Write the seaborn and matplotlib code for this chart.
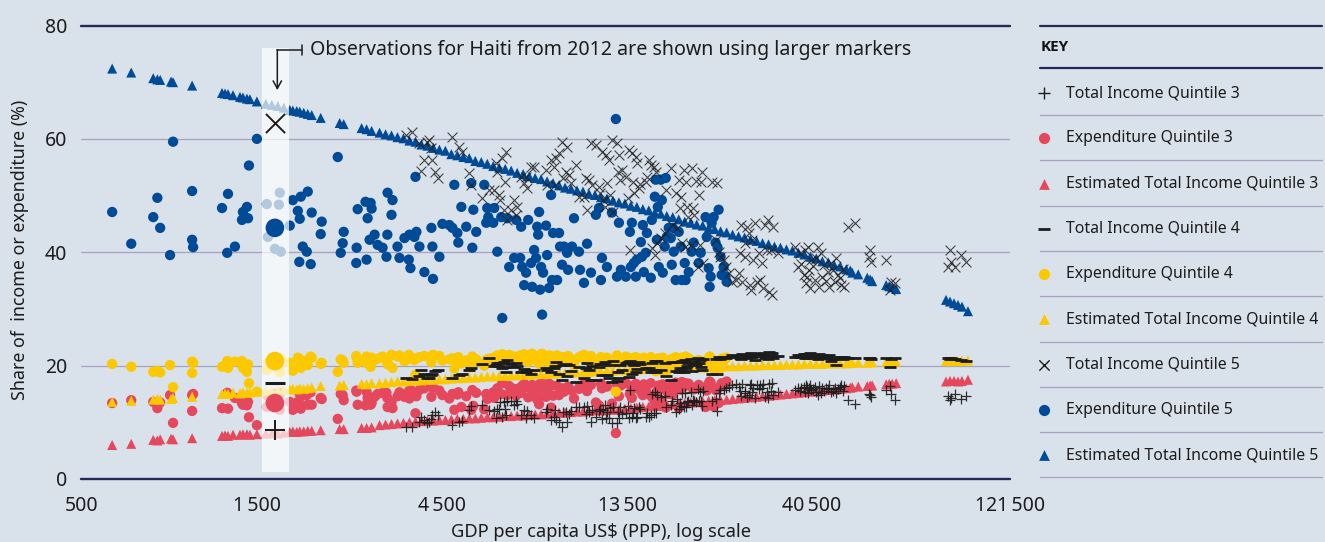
import matplotlib
matplotlib.use("Agg")
import matplotlib.pyplot as plt
from matplotlib.ticker import NullLocator
import seaborn as sns

sns.set_style("white")
plt.rcParams['font.family'] = ['Noto Sans', 'DejaVu Sans']

BG = '#d9e1ea'
DARK = '#27275a'
GRID = '#a8a1c0'
BLUE = '#004b98'
RED = '#e5485c'
YELLOW = '#fcc800'
INK = '#1c1c1c'

# ---------------- data ----------------
# Estimated total income (triangles): GDP per capita, share of quintile 3/4/5 (%)
est_gdp = [633, 709, 808, 828, 842, 898, 909, 1018, 1216, 1238, 1260, 1298, 1353, 1377, 1410, 1435, 1496,
           1578, 1635, 1694, 1755, 1819, 1852, 1896, 1930, 1976, 2024, 2072, 2186, 2447, 2506, 2787, 2871, 2958,
           3101, 3214, 3329, 3450, 3575, 3704, 3839, 3977, 4121, 4270, 4425, 4586, 4751, 4923, 5102, 5286, 5478,
           5676, 5882, 6094, 6315, 6544, 6780, 7026, 7280, 7543, 7817, 8099, 8393, 8697, 9011, 9338, 9675, 10026,
           10388, 10765, 11156, 11558, 11977, 12411, 12860, 13327, 13807, 14308, 14825, 15362, 15920, 16494, 17092,
           17710, 18351, 19017, 19704, 20418, 21156, 21922, 22718, 23537, 24390, 25272, 26187, 27138, 28117, 29136,
           30191, 31283, 32419, 33588, 34806, 36065, 37370, 38727, 40125, 41580, 43084, 44643, 46264, 47933, 49671,
           50858, 51466, 53330, 56258, 57259, 57944, 62958, 64085, 65235, 66802, 89844, 91993, 94211, 96461, 98776,
           102350]
est_q5 = [72.4, 71.7, 70.7, 70.5, 70.4, 70.1, 70.0, 69.4, 68.1, 68.0, 67.9, 67.7, 67.4, 67.3, 67.1, 67.0, 66.6,
          66.2, 66.0, 65.8, 65.5, 65.1, 65.0, 64.9, 64.8, 64.6, 64.4, 64.2, 63.7, 62.8, 62.6, 61.9, 61.7, 61.4,
          61.1, 60.8, 60.6, 60.3, 60.1, 59.7, 59.5, 59.0, 58.8, 58.4, 58.1, 57.9, 57.3, 57.1, 56.8, 56.6, 56.1,
          55.9, 55.6, 55.2, 54.9, 54.7, 54.4, 54.0, 53.8, 53.4, 53.1, 52.9, 52.5, 52.2, 51.8, 51.4, 51.2, 50.9,
          50.7, 50.3, 50.1, 49.7, 49.5, 49.1, 48.8, 48.6, 48.2, 48.0, 47.6, 47.4, 47.0, 46.8, 46.4, 46.2,
          45.8, 45.4, 45.2, 44.9, 44.7, 44.3, 44.1, 43.7, 43.5, 43.1, 42.8, 42.6, 42.2, 42.0, 41.6, 41.4, 41.0,
          40.8, 40.5, 40.3, 39.9, 39.6, 39.2, 38.9, 38.4, 38.2, 37.7, 37.5, 37.0,
          36.8, 36.4, 36.1, 35.5, 35.2, 34.9, 34.2, 34.0, 33.8, 33.5, 31.6, 31.3, 31.0, 30.7, 30.4, 29.6]
est_q3 = [6.0, 6.2, 6.9, 6.8, 7.0, 7.1, 7.0, 7.2, 7.6, 7.7, 7.6, 7.8, 7.8, 7.9, 7.9, 7.8, 7.9,
          8.0, 8.1, 8.0, 8.2, 8.3, 8.4, 8.3, 8.4, 8.4, 8.5, 8.5, 8.6, 8.8, 8.8, 9.0, 9.0, 9.1,
          9.5, 9.6, 9.7, 9.8, 9.9, 10.0, 10.1, 10.2, 10.3, 10.3, 10.4, 10.4, 10.5, 10.6, 10.6, 10.7, 10.7,
          10.8, 10.9, 10.9, 11.0, 11.1, 11.1, 11.2, 11.2, 11.3, 11.4, 11.4, 11.5, 11.6, 11.7, 11.7, 11.8, 11.9,
          11.9, 12.0, 12.1, 12.1, 12.2, 12.2, 12.3, 12.4, 12.5, 12.6, 12.7, 12.8, 12.9, 13.0, 13.1, 13.2,
          13.3, 13.4, 13.5, 13.6, 13.7, 13.8, 13.9, 13.9, 14.0, 14.1, 14.2, 14.3, 14.4, 14.5, 14.6, 14.7, 14.8,
          14.9, 15.0, 15.1, 15.2, 15.3, 15.4, 15.5, 15.6, 15.7, 15.8, 15.9, 16.0,
          16.1, 16.2, 16.3, 16.4, 16.5, 16.5, 16.7, 16.8, 16.8, 16.9, 17.2, 17.3, 17.3, 17.2, 17.3, 17.5]
est_q4 = [13.6, 13.8, 14.0, 14.1, 14.0, 14.1, 14.3, 14.5, 15.0, 15.1, 15.0, 15.2, 15.1, 15.3, 15.2, 15.3, 15.4,
          15.5, 15.5, 15.6, 15.7, 15.8, 15.9, 15.8, 16.0, 15.9, 16.0, 16.1, 16.4, 16.5, 16.6, 16.8, 16.7, 16.9,
          16.9, 17.0, 17.1, 17.2, 17.2, 17.3, 17.4, 17.4, 17.5, 17.5, 17.6, 17.6, 17.7, 17.8, 17.8, 17.9, 17.9,
          18.0, 18.1, 18.1, 18.2, 18.2, 18.3, 18.3, 18.4, 18.4, 18.5, 18.5, 18.6, 18.6, 18.7, 18.7, 18.8, 18.8,
          18.9, 18.9, 19.0, 19.0, 19.1, 19.1, 19.2, 19.2, 19.3, 19.3, 19.4, 19.4, 19.5, 19.5, 19.5, 19.6,
          19.6, 19.6, 19.7, 19.7, 19.7, 19.8, 19.8, 19.8, 19.9, 19.9, 19.9, 20.0, 20.0, 20.0, 20.1, 20.1, 20.1,
          20.1, 20.2, 20.2, 20.2, 20.3, 20.3, 20.3, 20.3, 20.4, 20.4, 20.4, 20.4,
          20.5, 20.5, 20.5, 20.5, 20.6, 20.6, 20.6, 20.6, 20.7, 20.7, 20.8, 20.8, 20.9, 20.8, 20.9, 20.9]

# Expenditure surveys (circles)
exp_gdp = [633, 709, 808, 828, 842, 893, 909, 1018, 1018, 1024, 1216, 1260, 1254, 1313, 1369, 1377, 1410, 1419,
           1427, 1496, 1587, 1705, 1714, 1598, 1665, 1724, 1819, 1852, 1908, 1930, 1942, 2024, 2072, 1965, 2012,
           1925, 2060, 2199, 2186, 2419, 2506, 2491, 2462, 2706, 2700, 2723, 2853, 2889, 2941, 2958, 2871, 2923,
           3011, 3066, 3157, 3253, 3349, 3248, 3329, 3231, 3450, 3491, 3596, 3704, 3839, 3860, 3815, 3930, 4245,
           3690, 3726, 4048, 4260, 4220, 4505, 4695, 4780, 4425, 4836, 5042, 4923, 4952, 5191, 5349, 5381, 5413,
           5508, 5777, 5882, 5846, 5917, 6094, 6130, 6243, 6391, 6429, 6622, 6700, 6901, 6982, 7194, 7152, 7237,
           7323, 7408, 7500, 7633, 7679, 7770, 7860, 7913, 8004, 7958, 8099, 8147, 8052, 8196, 8340, 8393, 8493,
           8594, 8645, 8697, 8909, 9011, 9065, 9173, 9281, 9452, 9507, 9733, 9848, 10145, 10206, 10449, 10642,
           10894, 11217, 11422, 11558, 11627, 11977, 12338, 12629, 12714, 12860, 13014, 13400, 13807, 13727, 13890,
           14054, 14218, 14308, 14652, 14739, 14825, 14912, 15086, 15187, 15546, 15639, 16007, 15920, 16114, 16207,
           16300, 16494, 16594, 16691, 16985, 17092, 16887, 17295, 17503, 17606, 17710, 17814, 18021, 18351, 18571,
           18682, 19122, 19017, 19472, 19822, 20056, 20660, 20908, 21528, 21672, 21922, 22185, 22053, 22317, 22580,
           23260, 23123, 23537, 23679, 23958, 24390, 22843, 24237]
exp_q3 = [13.4, 13.9, 13.6, 12.5, 13.5, 14.8, 9.9, 12.0, 14.8, 15.0, 12.5, 12.4, 15.2, 14.3, 13.4, 13.1, 13.0, 13.6,
          10.9, 9.5, 12.7, 12.8, 12.2, 14.6, 15.0, 15.2, 13.6, 12.2, 13.6, 13.3, 12.4, 13.1, 13.1, 14.8, 14.8,
          15.1, 15.3, 14.1, 14.3, 10.6, 13.9, 14.8, 15.0, 15.4, 15.6, 13.1, 13.0, 14.3, 13.1, 13.4, 15.4, 14.3,
          14.5, 15.0, 15.2, 12.7, 12.5, 14.3, 13.5, 15.2, 14.6, 15.3, 14.5, 14.2, 11.6, 14.6, 15.0, 15.7, 16.1,
          15.5, 15.8, 16.0, 16.2, 14.5, 14.8, 14.2, 15.0, 15.6, 12.2, 12.7, 14.9, 15.3, 14.6, 12.2, 15.7, 12.9,
          15.2, 12.3, 14.1, 15.0, 14.6, 15.3, 14.3, 16.0, 15.0, 16.9, 14.8, 16.4, 15.9, 14.7, 15.2, 16.1, 16.4,
          16.8, 16.2, 14.4, 15.9, 16.6, 15.5, 15.8, 14.0, 13.2, 14.6, 16.2, 16.9, 16.8, 16.1, 14.5, 15.5, 16.8,
          12.6, 16.5, 14.7, 16.4, 14.8, 15.2, 16.0, 15.4, 15.8, 16.3, 15.6, 14.2, 15.9, 16.4, 16.8, 15.5,
          16.6, 13.5, 13.0, 16.8, 16.0, 16.3, 13.3, 8.1, 16.7, 14.6, 16.5, 16.9, 16.4, 15.0, 14.3,
          16.2, 16.8, 16.0, 15.4, 16.1, 14.8, 16.7, 16.0, 15.1, 16.9, 14.5, 12.8, 13.6, 15.4, 14.0,
          16.5, 12.9, 13.8, 16.7, 12.6, 15.5, 15.9, 15.0, 15.6, 16.5, 14.9, 16.1, 17.0, 12.5, 15.8,
          17.1, 16.9, 16.4, 16.8, 16.2, 15.8, 16.6, 16.2, 12.7, 15.6, 16.8, 17.0, 17.2, 13.0, 12.8,
          13.4, 16.0, 16.4, 16.9, 16.6, 17.2, 15.7, 17.0]
exp_q4 = [20.3, 19.8, 18.9, 19.1, 18.8, 20.1, 16.2, 18.7, 20.7, 20.5, 19.8, 19.6, 20.8, 20.7, 20.8, 19.6, 18.9, 20.2,
          16.9, 15.4, 19.2, 19.4, 18.8, 20.6, 21.0, 21.2, 20.5, 19.1, 21.4, 20.0, 19.6, 20.1, 21.4, 20.7, 20.9,
          21.2, 21.6, 20.5, 20.3, 18.9, 20.5, 20.9, 21.1, 21.4, 21.7, 20.5, 20.7, 20.4, 19.8, 21.4, 21.6, 20.7,
          21.0, 21.2, 21.6, 20.2, 19.6, 20.7, 21.9, 21.0, 21.6, 21.8, 20.8, 21.2, 18.4, 21.3, 21.0, 21.5, 21.6,
          21.9, 21.4, 21.7, 21.9, 20.6, 20.9, 21.1, 21.3, 21.7, 19.5, 20.4, 21.0, 21.5, 20.9, 19.7, 21.6, 20.6,
          21.1, 20.0, 20.7, 21.0, 21.2, 21.4, 20.5, 21.8, 21.1, 22.0, 21.3, 21.9, 21.6, 20.8, 21.0, 21.8, 21.5,
          22.0, 21.7, 20.6, 21.4, 22.1, 21.2, 21.5, 20.9, 20.3, 20.8, 21.3, 22.1, 21.9, 21.6, 20.7, 21.3, 21.8,
          19.8, 21.6, 20.9, 21.8, 20.6, 21.2, 21.5, 21.0, 21.3, 21.7, 21.1, 20.2, 21.4, 21.6, 21.9, 20.9,
          21.7, 20.4, 20.0, 21.5, 21.2, 21.4, 20.3, 15.4, 21.8, 20.6, 21.2, 21.6, 21.3, 20.7, 20.4,
          21.1, 21.5, 21.0, 20.8, 21.2, 20.3, 21.4, 21.1, 20.6, 21.5, 20.2, 19.0, 19.5, 20.8, 19.9,
          21.3, 19.2, 19.6, 21.4, 18.9, 20.5, 20.9, 20.4, 20.7, 21.2, 20.3, 21.0, 21.5, 20.4, 20.8,
          21.4, 21.6, 21.1, 21.3, 20.9, 20.6, 21.0, 20.8, 19.6, 20.5, 21.2, 21.4, 21.6, 19.8, 19.5,
          19.2, 20.7, 20.9, 21.2, 21.0, 21.4, 20.4, 21.3]
exp_q5 = [47.1, 41.5, 46.2, 49.6, 44.3, 39.5, 59.5, 50.8, 42.2, 40.9, 47.8, 50.3, 39.9, 41.0, 45.7, 47.1, 48.0, 46.0,
          55.3, 60.0, 48.5, 48.4, 50.5, 42.7, 40.6, 40.1, 44.7, 49.2, 47.3, 45.9, 49.8, 50.7, 47.0, 41.0, 40.1,
          38.3, 37.9, 45.4, 43.2, 56.8, 43.6, 41.6, 39.9, 40.8, 38.1, 47.6, 48.9, 46.0, 48.7, 47.7, 38.7, 42.2,
          43.1, 41.3, 40.8, 50.5, 49.2, 43.1, 46.6, 39.2, 41.0, 39.0, 42.5, 43.1, 53.3, 43.6, 42.7, 41.0, 41.0,
          38.7, 37.2, 36.5, 35.3, 44.3, 45.0, 44.8, 44.3, 39.2, 51.9, 48.0, 43.4, 41.7, 44.5, 52.2, 40.8, 47.5,
          43.6, 51.9, 47.8, 45.2, 46.2, 45.2, 47.8, 40.1, 46.2, 28.4, 46.0, 37.4, 39.0, 45.7, 44.5, 39.0, 37.4,
          34.2, 36.4, 45.7, 38.1, 33.9, 40.4, 39.0, 44.5, 47.1, 43.1, 37.4, 29.0, 33.4, 36.4, 44.7, 39.5, 33.7,
          50.1, 35.1, 43.4, 35.1, 43.4, 41.0, 37.8, 41.0, 39.9, 36.9, 41.0, 46.0, 40.1, 36.9, 34.6, 41.5,
          36.4, 46.6, 47.8, 35.1, 39.0, 37.4, 47.0, 63.5, 35.7, 45.2, 36.9, 35.7, 37.4, 43.6, 45.2,
          38.1, 35.7, 38.7, 41.8, 39.2, 44.8, 36.5, 39.9, 43.4, 35.5, 45.7, 52.8, 49.8, 42.2, 48.0,
          37.4, 52.8, 49.2, 36.4, 53.1, 42.7, 41.0, 44.3, 42.5, 37.8, 44.3, 40.1, 35.1, 43.6, 41.0,
          35.1, 35.1, 38.1, 36.5, 40.1, 41.7, 38.1, 39.9, 46.2, 42.7, 37.2, 35.7, 33.9, 45.2, 46.2,
          47.5, 40.8, 39.2, 36.0, 37.4, 34.8, 41.7, 35.7]

# Total income surveys (+, -, x)
inc_gdp = [3638, 3771, 3930, 3977, 4048, 4121, 4170, 4220, 4245, 4320, 4399, 4780, 4982, 5072, 5286, 5349, 5710,
           5951, 6130, 6201, 6243, 6315, 6353, 6429, 6505, 6580, 6544, 6622, 6780, 6901, 6982, 7026, 7194, 7323,
           7408, 7454, 7633, 7770, 8340, 8393, 8594, 8748, 8850, 8799, 9011, 9173, 9227, 9390, 9452, 9561, 9675,
           9963, 10145, 10449, 10571, 10642, 10765, 10894, 10958, 11217, 11422, 11490, 11627, 11696, 11902, 11836,
           11977, 12120, 12193, 12338, 12411, 12714, 12790, 12860, 12937, 13091, 13400, 13645, 13564, 13727, 13890,
           13972, 14054, 14218, 14308, 14478, 14565, 15086, 15187, 15362, 15546, 15639, 15823, 15920, 16007, 16114,
           16494, 16985, 16887, 17503, 17606, 18021, 18130, 18351, 18460, 18571, 18682, 18902, 19122, 19236, 19350,
           19017, 19822, 19939, 19704, 20056, 20290, 20660, 20780, 20540, 21032, 20908, 21156, 22317, 22843, 22990,
           23260, 23398, 23958, 24237, 24680, 25124, 25717, 26187, 26343, 26501, 26660, 27287, 27453, 27138, 27786,
           27952, 28286, 28455, 28117, 28953, 29136, 29483, 29660, 30013, 30191, 30721, 30927, 31283, 31470, 31846,
           32034, 32221, 33193, 36699, 37370, 37818, 38044, 38727, 38959, 39193, 39653, 39890, 39428, 40125, 40366,
           40843, 41318, 41580, 42074, 42326, 42831, 43084, 43589, 44136, 44643, 44911, 45447, 45982, 46518, 46830,
           47369, 47933, 48217, 48790, 49085, 50260, 52371, 57259, 56925, 57606, 62958, 64468, 64853, 66382, 90911,
           91993, 92547, 94729, 98197, 101188]
inc_q3 = [9.2, 9.2, 10.0, 10.9, 10.4, 9.9, 10.0, 10.6, 11.3, 11.8, 11.3, 9.5, 10.0, 10.2, 12.2, 12.9, 13.1,
          12.2, 12.0, 10.8, 12.4, 12.4, 13.6, 11.0, 13.6, 11.3, 12.3, 13.8, 13.8, 13.0, 13.7, 13.2, 11.3, 12.2,
          10.8, 12.0, 11.3, 10.8, 11.8, 12.4, 10.4, 11.0, 10.4, 12.2, 10.0, 9.2, 11.8, 11.8, 10.0, 11.5, 12.0,
          12.7, 12.7, 12.7, 11.5, 12.9, 11.8, 10.1, 12.1, 10.9, 12.0, 12.4, 10.6, 12.2, 10.8, 13.0,
          11.9, 10.8, 12.5, 9.9, 12.7, 9.9, 11.9, 10.8, 12.7, 11.4, 11.7, 10.8, 12.8, 15.7, 10.9,
          11.6, 12.6, 10.8, 11.0, 12.7, 12.3, 10.9, 11.6, 11.0, 11.3, 15.0, 11.6, 15.3, 11.6, 14.8,
          14.5, 12.7, 14.6, 13.0, 13.8, 11.8, 14.2, 12.4, 13.4, 12.9, 15.1, 12.7, 12.7, 13.6, 13.8,
          15.2, 13.0, 13.9, 15.4, 13.8, 13.6, 13.8, 15.4, 15.9, 12.8, 13.7, 15.6, 13.8, 14.2, 12.0,
          15.2, 15.7, 15.7, 16.0, 16.2, 16.5, 16.8, 16.2, 15.6, 14.6, 16.8, 15.2, 14.5, 15.6, 14.9,
          16.6, 15.4, 16.1, 16.8, 14.3, 16.6, 15.8, 16.5, 16.1, 16.7, 14.5, 15.4, 14.3, 16.8, 15.6,
          17.0, 14.8, 15.4, 15.7, 16.1, 15.5, 16.0, 16.3, 15.4, 16.5, 15.2, 16.0, 16.2, 16.6, 15.7,
          15.9, 16.3, 15.3, 14.8, 16.4, 15.2, 16.0, 15.5, 16.1, 15.8, 16.5, 15.4, 15.6, 16.0, 15.1,
          15.8, 16.2, 16.5, 15.5, 16.4, 13.9, 13.2, 14.8, 15.0, 14.5, 15.7, 16.4, 15.0, 13.9, 14.6,
          14.0, 14.3, 15.0, 14.2, 14.7]
inc_q4 = [17.8, 17.7, 18.2, 19.2, 18.5, 17.8, 17.9, 18.3, 18.5, 19.0, 19.3, 17.8, 18.4, 18.6, 19.2, 19.6, 20.2,
          21.3, 20.0, 20.1, 20.4, 19.9, 20.5, 19.5, 20.7, 18.9, 19.8, 21.0, 20.3, 19.8, 20.4, 19.9, 18.9, 19.4,
          18.9, 19.2, 18.5, 19.2, 19.6, 19.3, 18.8, 19.6, 20.7, 19.9, 18.5, 17.5, 20.1, 20.3, 18.2, 20.1, 19.0,
          17.1, 19.8, 17.8, 19.6, 20.5, 19.2, 17.5, 19.9, 17.5, 19.7, 20.2, 18.4, 20.3, 18.4, 20.6,
          18.4, 17.9, 20.1, 17.1, 20.8, 17.3, 18.9, 17.8, 20.1, 19.3, 20.5, 18.0, 20.7, 20.9, 18.6,
          20.3, 20.1, 18.9, 19.4, 20.7, 20.2, 19.6, 19.4, 19.6, 18.9, 20.4, 19.2, 20.8, 18.8, 20.9,
          19.2, 18.2, 20.5, 17.5, 20.7, 19.0, 20.6, 18.9, 19.6, 19.2, 20.8, 18.9, 19.6, 19.9, 20.4,
          21.0, 19.1, 20.2, 21.2, 20.6, 20.1, 20.5, 21.0, 21.3, 19.2, 19.7, 21.1, 18.5, 21.2, 18.5,
          21.5, 21.2, 21.6, 21.4, 21.5, 21.9, 21.7, 21.7, 21.4, 21.2, 22.0, 21.6, 21.3, 21.8, 21.5,
          22.1, 21.6, 21.9, 22.3, 21.0, 22.0, 21.7, 22.0, 21.8, 22.2, 21.3, 21.6, 21.2, 22.4, 21.8,
          22.3, 21.4, 21.7, 21.5, 21.9, 21.6, 21.8, 22.0, 21.4, 22.1, 21.3, 21.9, 22.0, 22.2, 21.7,
          21.8, 21.9, 21.5, 21.2, 22.1, 21.4, 21.8, 21.5, 21.7, 21.3, 21.9, 20.9, 21.2, 21.5, 20.1,
          21.3, 21.4, 21.6, 21.1, 21.5, 21.4, 21.3, 21.3, 21.4, 21.2, 21.3, 19.8, 21.2, 21.4, 21.4,
          21.2, 21.3, 21.1, 21.0, 20.9]
inc_q5 = [60.7, 61.3, 59.3, 54.4, 56.3, 59.5, 59.8, 58.4, 56.3, 54.2, 53.1, 60.4, 58.6, 57.7, 54.0, 51.9, 49.6,
          51.0, 51.0, 55.8, 54.2, 50.1, 49.2, 56.7, 47.5, 57.7, 52.4, 45.7, 47.5, 49.2, 46.6, 48.0, 53.3, 52.2,
          53.3, 51.4, 55.1, 55.1, 54.5, 51.9, 56.3, 55.1, 56.7, 51.9, 57.5, 59.5, 53.1, 54.2, 58.6, 53.7, 52.2,
          55.4, 49.8, 49.8, 53.1, 47.5, 52.8, 59.3, 51.9, 59.0, 51.5, 50.5, 57.7, 49.2, 57.2, 48.0,
          52.2, 56.3, 50.1, 59.8, 47.1, 59.3, 54.2, 57.2, 52.8, 54.5, 53.3, 58.1, 49.6, 40.4, 57.5,
          52.4, 50.5, 56.8, 55.8, 51.4, 52.0, 52.4, 53.3, 56.3, 55.4, 40.8, 55.1, 39.5, 54.2, 41.7,
          42.5, 51.0, 43.4, 54.9, 44.8, 50.5, 44.2, 52.8, 47.8, 49.8, 41.7, 54.5, 52.4, 48.0, 46.2,
          41.0, 54.9, 47.8, 41.3, 46.6, 52.6, 50.1, 41.3, 37.4, 54.2, 52.4, 38.1, 52.4, 42.2, 52.2,
          40.1, 39.2, 38.7, 37.4, 36.4, 34.8, 35.1, 36.4, 39.9, 44.8, 34.8, 41.7, 44.5, 39.2, 43.4,
          34.2, 42.2, 38.7, 33.4, 45.2, 34.8, 39.9, 35.1, 38.1, 33.7, 44.8, 40.4, 45.7, 33.0, 40.4,
          32.5, 44.5, 39.9, 41.0, 37.4, 39.9, 38.0, 36.0, 40.4, 34.5, 41.0, 36.9, 35.7, 33.7, 38.7,
          37.5, 35.1, 39.0, 41.0, 33.9, 39.9, 35.7, 37.8, 35.0, 36.5, 33.9, 38.1, 36.9, 34.8, 38.9,
          36.0, 35.5, 34.2, 37.0, 33.8, 44.5, 45.2, 40.4, 39.2, 38.3, 38.7, 33.4, 34.8, 34.6, 37.4,
          40.4, 38.3, 37.4, 39.5, 38.3]

# Haiti 2012 (larger markers)
haiti_gdp = 1665
haiti_exp = {'q3': 13.4, 'q4': 20.8, 'q5': 44.3}
haiti_inc = {'q3': 8.6, 'q4': 17.0, 'q5': 62.8}

x_ticks = [527, 1500, 4500, 13500, 40500, 131200]
x_tick_labels = ['500', '1\u2009500', '4\u2009500', '13\u2009500', '40\u2009500', '121\u2009500']
y_ticks = [0, 20, 40, 60, 80]

legend_labels = ['Total Income Quintile 3', 'Expenditure Quintile 3', 'Estimated Total Income Quintile 3',
                 'Total Income Quintile 4', 'Expenditure Quintile 4', 'Estimated Total Income Quintile 4',
                 'Total Income Quintile 5', 'Expenditure Quintile 5', 'Estimated Total Income Quintile 5']

# ---------------- figure ----------------
W, H = 1325, 542
fig = plt.figure(figsize=(W / 100, H / 100), dpi=100)
fig.patch.set_facecolor(BG)
ax = fig.add_axes([81 / W, (H - 479) / H, 929 / W, 453.5 / H])
ax.set_facecolor(BG)
ax.set_xscale('log')
ax.set_xlim(526, 131400)
ax.set_ylim(0, 80)

for yv in [20, 40, 60]:
    ax.axhline(yv, color=GRID, lw=0.9, zorder=0.5)
for yv in [0, 80]:
    ax.axhline(yv, color=DARK, lw=1.7, zorder=1, clip_on=False)

filled = dict(linewidth=0, edgecolor='none', legend=False, ax=ax)
sns.scatterplot(x=exp_gdp, y=exp_q3, color=RED, marker='o', s=55, zorder=2, **filled)
sns.scatterplot(x=exp_gdp, y=exp_q4, color=YELLOW, marker='o', s=55, zorder=2, **filled)
sns.scatterplot(x=exp_gdp, y=exp_q5, color=BLUE, marker='o', s=55, zorder=2, **filled)
sns.scatterplot(x=est_gdp, y=est_q3, color=RED, marker='^', s=52, zorder=3, **filled)
sns.scatterplot(x=est_gdp, y=est_q4, color=YELLOW, marker='^', s=52, zorder=3, **filled)
sns.scatterplot(x=est_gdp, y=est_q5, color=BLUE, marker='^', s=52, zorder=3, **filled)
sns.scatterplot(x=inc_gdp, y=inc_q3, color=INK, marker='+', s=60, linewidth=0.9, alpha=0.9,
                zorder=4, legend=False, ax=ax)
sns.scatterplot(x=inc_gdp, y=inc_q4, color=INK, marker='_', s=70, linewidth=2.0,
                zorder=4, legend=False, ax=ax)
sns.scatterplot(x=inc_gdp, y=inc_q5, color=INK, marker='x', s=50, linewidth=0.8, alpha=0.8,
                zorder=4, legend=False, ax=ax)

# translucent band highlighting Haiti
ax.axvspan(1541, 1808, ymin=1.2 / 80, ymax=76.1 / 80, facecolor='white', alpha=0.7, linewidth=0, zorder=5)

big = dict(legend=False, ax=ax, zorder=6)
sns.scatterplot(x=[haiti_gdp], y=[haiti_exp['q5']], color=BLUE, marker='o', s=180, linewidth=0, edgecolor='none', **big)
sns.scatterplot(x=[haiti_gdp], y=[haiti_exp['q4']], color=YELLOW, marker='o', s=180, linewidth=0, edgecolor='none', **big)
sns.scatterplot(x=[haiti_gdp], y=[haiti_exp['q3']], color=RED, marker='o', s=180, linewidth=0, edgecolor='none', **big)
sns.scatterplot(x=[haiti_gdp], y=[haiti_inc['q5']], color=INK, marker='x', s=190, linewidth=1.4, **big)
sns.scatterplot(x=[haiti_gdp], y=[haiti_inc['q4']], color=INK, marker='_', s=220, linewidth=2.2, **big)
sns.scatterplot(x=[haiti_gdp], y=[haiti_inc['q3']], color=INK, marker='+', s=190, linewidth=1.4, **big)

# annotation bracket + arrow
ax_x0, ax_x1, ax_x2 = 1689, 1959, 2054
ax.plot([ax_x0, ax_x1], [75.7, 75.7], color=INK, lw=1.1, zorder=7, clip_on=False)
ax.plot([ax_x1, ax_x1], [74.8, 76.6], color=INK, lw=1.1, zorder=7, clip_on=False)
ax.annotate('', xy=(ax_x0, 68.6), xytext=(ax_x0, 75.75),
            arrowprops=dict(arrowstyle='->,head_length=0.55,head_width=0.3', color=INK, lw=1.1,
                            shrinkA=0, shrinkB=0), zorder=7)
ax.text(ax_x2, 75.7, 'Observations for Haiti from 2012 are shown using larger markers',
        fontsize=14.1, va='center', ha='left', color=INK, zorder=7)

for sp in ax.spines.values():
    sp.set_visible(False)
ax.set_xticks(x_ticks)
ax.set_xticklabels(x_tick_labels)
ax.xaxis.set_minor_locator(NullLocator())
ax.set_yticks(y_ticks)
ax.set_yticklabels([str(v) for v in y_ticks])
ax.tick_params(axis='x', length=0, labelsize=14, colors=INK, pad=12)
ax.tick_params(axis='y', length=0, labelsize=14, colors=INK, pad=10)
ax.set_xlabel('')
ax.set_ylabel('')

fig.text(601 / W, 1 - 532 / H, 'GDP per capita US$ (PPP), log scale', ha='center', va='center',
         fontsize=13.2, color=INK)
fig.text(20 / W, 1 - 250 / H, 'Share of  income or expenditure (%)', rotation=90, ha='center',
         va='center', fontsize=12.8, color=INK)

# ---------------- key ----------------
lx = fig.add_axes([1040 / W, (H - 479) / H, 282 / W, 453.5 / H])
lx.set_xlim(1040, 1322)
lx.set_ylim(479, 25.5)
lx.axis('off')
lx.plot([1040, 1322], [26, 26], color=DARK, lw=1.6, clip_on=False)
lx.plot([1040, 1322], [68, 68], color=DARK, lw=1.6, clip_on=False)
lx.text(1041, 47, 'KEY', fontsize=11, fontweight='bold', family=['Open Sans', 'DejaVu Sans'],
        va='center', ha='left', color='#111111')

key_styles = [('+', INK, 70, 1.0), ('o', RED, 65, 0), ('^', RED, 60, 0),
              ('_', INK, 80, 2.0), ('o', YELLOW, 65, 0), ('^', YELLOW, 60, 0),
              ('x', INK, 55, 1.0), ('o', BLUE, 65, 0), ('^', BLUE, 60, 0)]
for i, (lab, (mk, col, sz, lw)) in enumerate(zip(legend_labels, key_styles)):
    yc = 93 + 45.25 * i
    if lw == 0:
        lx.scatter([1044], [yc], marker=mk, s=sz, color=col, linewidths=0, clip_on=False)
    else:
        lx.scatter([1044], [yc], marker=mk, s=sz, color=col, linewidths=lw, clip_on=False)
    lx.text(1066, yc, lab, fontsize=11.4, va='center', ha='left', color=INK)
    ys = 115 + 45.3 * i
    lx.plot([1040, 1322], [ys, ys], color=GRID, lw=0.9, clip_on=False)

fig.savefig('out.png', dpi=100, facecolor=BG)
